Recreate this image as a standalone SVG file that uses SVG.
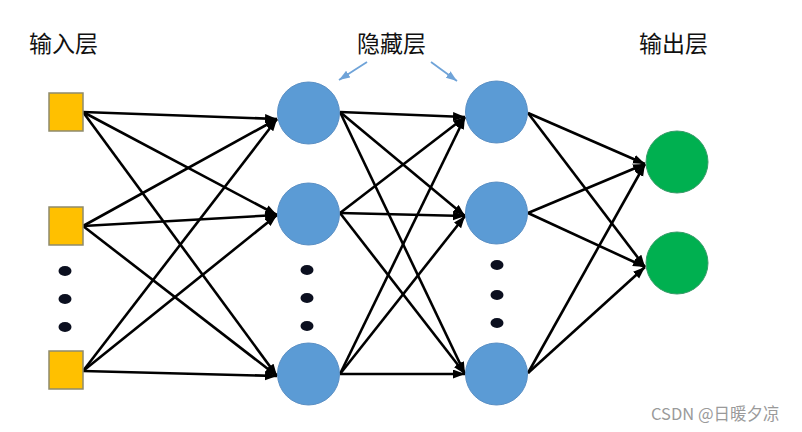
<svg xmlns="http://www.w3.org/2000/svg" width="802" height="432" viewBox="0 0 802 432">
<style>
.t{font-family:"Noto Sans CJK SC","Noto Sans",sans-serif;font-size:23px;fill:#111}
.in{fill:#FFC000;stroke:#8E8B6C;stroke-width:1.5}
.hid{fill:#5B9BD5;stroke:#5A8FC4;stroke-width:1}
.out{fill:#00B050;stroke:#3A9C6A;stroke-width:1}
.dot{fill:#0B0F1F}
.c line{stroke:#000;stroke-width:2.6;marker-end:url(#ah)}
.b{stroke:#6FA3D8;stroke-width:1.8;marker-end:url(#bh)}
.wm{font-family:"Noto Sans CJK SC","Noto Sans",sans-serif;font-size:16.5px;fill:#9a9a9a}
</style>
<defs>
<marker id="ah" markerUnits="userSpaceOnUse" markerWidth="13" markerHeight="10" refX="12" refY="4.5" orient="auto"><path d="M0,0 L12,4.5 L0,9 z" fill="#000"/></marker>
<marker id="bh" markerUnits="userSpaceOnUse" markerWidth="12" markerHeight="10" refX="11" refY="4" orient="auto"><path d="M0,0 L11,4 L0,8 z" fill="#6FA3D8"/></marker>
</defs>
<rect width="802" height="432" fill="#fff"/>
<text class="t" x="29" y="52">输入层</text>
<text class="t" x="357" y="52">隐藏层</text>
<text class="t" x="639" y="52">输出层</text>
<g id="hint-arrows">
<line class="b" x1="367" y1="62" x2="339" y2="80"/>
<line class="b" x1="431" y1="62" x2="457" y2="81"/>
</g>
<g class="c" id="connectors">
<line x1="83" y1="112" x2="277" y2="119"/>
<line x1="83" y1="112" x2="277" y2="215"/>
<line x1="83" y1="112" x2="277" y2="376"/>
<line x1="83" y1="226" x2="277" y2="119"/>
<line x1="83" y1="226" x2="277" y2="215"/>
<line x1="83" y1="226" x2="277" y2="376"/>
<line x1="83" y1="371" x2="277" y2="119"/>
<line x1="83" y1="371" x2="277" y2="215"/>
<line x1="83" y1="371" x2="277" y2="376"/>
<line x1="340" y1="112" x2="465" y2="117"/>
<line x1="340" y1="112" x2="465" y2="216"/>
<line x1="340" y1="112" x2="465" y2="374"/>
<line x1="340" y1="213" x2="465" y2="117"/>
<line x1="340" y1="213" x2="465" y2="216"/>
<line x1="340" y1="213" x2="465" y2="374"/>
<line x1="340" y1="374" x2="465" y2="117"/>
<line x1="340" y1="374" x2="465" y2="216"/>
<line x1="340" y1="374" x2="465" y2="374"/>
<line x1="528" y1="113" x2="645" y2="164"/>
<line x1="528" y1="113" x2="645" y2="267"/>
<line x1="528" y1="213" x2="645" y2="164"/>
<line x1="528" y1="213" x2="645" y2="267"/>
<line x1="528" y1="373" x2="645" y2="164"/>
<line x1="528" y1="373" x2="645" y2="267"/>
</g>
<g id="in1"><rect class="in" x="49" y="93" width="34" height="38"/></g>
<g id="in2"><rect class="in" x="49" y="207" width="34" height="38"/></g>
<g id="in3"><rect class="in" x="49" y="351" width="34" height="38"/></g>
<g id="in-dots"><ellipse class="dot" cx="65" cy="271" rx="6.5" ry="5"/><ellipse class="dot" cx="65" cy="299" rx="6.5" ry="5"/><ellipse class="dot" cx="65" cy="327" rx="6.5" ry="5"/></g>
<g id="h1a"><circle class="hid" cx="308.5" cy="113" r="31"/></g>
<g id="h1b"><circle class="hid" cx="308.5" cy="214" r="31"/></g>
<g id="h1c"><circle class="hid" cx="308.5" cy="374" r="31"/></g>
<g id="h1-dots"><ellipse class="dot" cx="307" cy="270" rx="6.5" ry="5"/><ellipse class="dot" cx="307" cy="298" rx="6.5" ry="5"/><ellipse class="dot" cx="307" cy="326" rx="6.5" ry="5"/></g>
<g id="h2a"><circle class="hid" cx="496.5" cy="112" r="31"/></g>
<g id="h2b"><circle class="hid" cx="496.5" cy="213" r="31"/></g>
<g id="h2c"><circle class="hid" cx="496.5" cy="374" r="31"/></g>
<g id="h2-dots"><ellipse class="dot" cx="497" cy="265" rx="6.5" ry="5"/><ellipse class="dot" cx="497" cy="295" rx="6.5" ry="5"/><ellipse class="dot" cx="497" cy="323" rx="6.5" ry="5"/></g>
<g id="o1"><circle class="out" cx="677" cy="162" r="31"/></g>
<g id="o2"><circle class="out" cx="677" cy="263" r="31"/></g>
<text class="wm" x="651" y="420">CSDN @日暖夕凉</text>
</svg>
